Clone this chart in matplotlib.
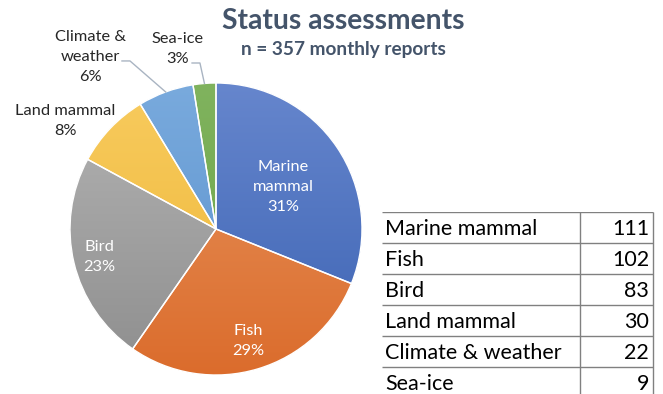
import numpy as np
import matplotlib.pyplot as plt
import matplotlib.patches as mpatches
from matplotlib.colors import LinearSegmentedColormap

plt.rcParams['font.family'] = ['Lato', 'DejaVu Sans']

# report counts per category
categories = ['Marine mammal', 'Fish', 'Bird', 'Land mammal', 'Climate & weather', 'Sea-ice']
pie_labels = ['Marine\nmammal', 'Fish', 'Bird', 'Land mammal', 'Climate &\nweather', 'Sea-ice']
counts = [111, 102, 83, 30, 22, 9]

# gradient colours (top, bottom) for each slice
top_colors = ['#6686CD', '#E8955F', '#B4B4B4', '#F8CB5E', '#79AADD', '#80B35E']
bot_colors = ['#3C63B3', '#DB6C2C', '#8E8E8E', '#EDB637', '#5990CC', '#69A244']

# label placement in pie units
label_pos = [(0.46, 0.29), (0.22, -0.77), (-0.80, -0.19),
             (-1.03, 0.74), (-0.86, 1.18), (-0.26, 1.23)]
inside = [True, True, True, False, False, False]
leaders = {4: (-0.644, 1.151, -0.589), 5: (-0.164, 1.137, -0.110)}

W, H = 663, 394
fig = plt.figure(figsize=(W / 100, H / 100), dpi=100)

# pie axes: centre (216, 229) px, radius 146 px
cx, cy, r = 216, 229, 146
ax = fig.add_axes([(cx - r) / W, (H - cy - r) / H, 2 * r / W, 2 * r / H])
wedges, _ = ax.pie(counts, colors=bot_colors, startangle=90, counterclock=False,
                   radius=1, wedgeprops=dict(linewidth=0))
grad = np.linspace(1, 0, 256).reshape(-1, 1)
for w, c0, c1 in zip(wedges, top_colors, bot_colors):
    cmap = LinearSegmentedColormap.from_list('g', [c1, c0])
    im = ax.imshow(grad, cmap=cmap, extent=(-1, 1, -1, 1), aspect='auto',
                   origin='upper', zorder=2)
    im.set_clip_path(w)
    ax.add_patch(mpatches.Wedge((0, 0), 1, w.theta1, w.theta2, facecolor='none',
                                edgecolor='white', linewidth=1, zorder=3))
ax.set_xlim(-1, 1)
ax.set_ylim(-1, 1)
ax.set_aspect('auto')
ax.axis('off')

total = sum(counts)
for i, (lab, v) in enumerate(zip(pie_labels, counts)):
    pct = round(v / total * 100)
    x, y = label_pos[i]
    ax.text(x, y, f'{lab}\n{pct}%', ha='center', va='center', fontsize=11.8,
            color='white' if inside[i] else '#262626', linespacing=1.55,
            zorder=5, clip_on=False)

# leader lines for the small slices
for i, (x0, y0, x1) in leaders.items():
    w = wedges[i]
    mid = np.deg2rad((w.theta1 + w.theta2) / 2)
    ax.plot([x0, x1, np.cos(mid)], [y0, y0, np.sin(mid)], color='#A9B4C2',
            lw=1, zorder=4, clip_on=False)

fig.text(343 / W, 1 - 21 / H, 'Status assessments', ha='center', va='center',
         fontsize=20.3, fontweight='bold', color='#44546A')
fig.text(343 / W, 1 - 50 / H, 'n = 357 monthly reports', ha='center', va='center',
         fontsize=13.7, fontweight='bold', color='#44546A')

# table of counts
tx0, tx1, tmid, ty0 = 382, 655, 580, 212
row_h = 31
tab = fig.add_axes([tx0 / W, 0, (tx1 - tx0) / W, (H - ty0) / H])
tab.set_xlim(tx0, tx1)
tab.set_ylim((H - ty0) / row_h, 0)
tab.axis('off')
n = len(categories)
tab.hlines(range(n), tx0, tx1 - 2, color='#808080', lw=1)
tab.vlines([tmid, tx1 - 2], 0, (H - ty0) / row_h, color='#808080', lw=1)
for i, (cat, v) in enumerate(zip(categories, counts)):
    tab.text(tx0 + 3, i + 0.55, cat, ha='left', va='center', fontsize=15.5, color='black')
    tab.text(tx1 - 6, i + 0.55, str(v), ha='right', va='center', fontsize=15.5, color='black')

fig.savefig('out.png', dpi=100)
